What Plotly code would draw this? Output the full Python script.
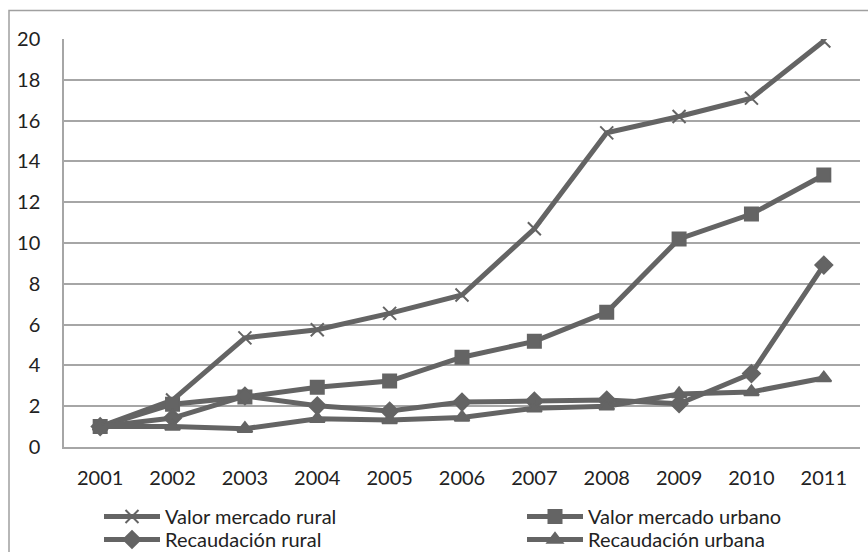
import plotly.graph_objects as go

years = ["2001", "2002", "2003", "2004", "2005", "2006", "2007", "2008", "2009", "2010", "2011"]
valor_rural = [1.0, 2.3, 5.35, 5.75, 6.55, 7.45, 10.7, 15.4, 16.2, 17.1, 19.9]
valor_urbano = [1.0, 2.1, 2.45, 2.93, 3.23, 4.4, 5.18, 6.6, 10.2, 11.42, 13.33]
recaud_rural = [1.0, 1.42, 2.5, 2.02, 1.76, 2.2, 2.25, 2.3, 2.12, 3.6, 8.92]
recaud_urbana = [1.0, 1.0, 0.9, 1.38, 1.32, 1.45, 1.9, 2.0, 2.6, 2.7, 3.38]

names = ["Valor mercado rural", "Valor mercado urbano", "Recaudación rural", "Recaudación urbana"]
series = [valor_rural, valor_urbano, recaud_rural, recaud_urbana]
symbols = ["x-thin", "square", "diamond", "triangle-up"]
sizes = [13, 13, 13, 13]
legend_ids = ["legend", "legend2", "legend3", "legend4"]

W, H = 868, 552
L, R, T, B = 64, 8, 39, 105
pw, ph = W - L - R, H - T - B


def px(x):
    return (x - L) / pw


def py(y):
    return (H - B - y) / ph


color = "#646464"
fig = go.Figure()
for n, s, sym, sz, lg in zip(names, series, symbols, sizes, legend_ids):
    fig.add_trace(go.Scatter(
        x=years, y=s, name=n, mode="lines+markers", legend=lg,
        line=dict(color=color, width=5),
        marker=dict(symbol=sym, size=sz, color=color,
                    line=dict(color=color, width=2)),
    ))

grid = "#a6a6a6"
font_family = "Lato, Open Sans, sans-serif"
leg_common = dict(orientation="v", yanchor="top", xanchor="left", itemwidth=56,
                  font=dict(size=20, family=font_family, color="#222222"),
                  itemclick=False, tracegroupgap=0, bgcolor="rgba(0,0,0,0)")
col_x = [99, 522, 99, 522]
row_top = [497, 497, 520, 520]
legend_layouts = {
    lid: dict(x=px(cx), y=py(ry), **leg_common)
    for lid, cx, ry in zip(legend_ids, col_x, row_top)
}

fig.update_layout(
    width=W, height=H,
    margin=dict(l=L, r=R, t=T, b=B, autoexpand=False),
    paper_bgcolor="white", plot_bgcolor="white",
    font=dict(family=font_family, size=20, color="#222222"),
    showlegend=True,
    xaxis=dict(type="category", range=[-0.5, 10.5], showgrid=False,
               showline=True, linecolor=grid, linewidth=1.5,
               ticks="", ticklabelstandoff=12, tickfont=dict(size=20)),
    yaxis=dict(range=[0, 20], dtick=2, showgrid=True, gridcolor=grid, gridwidth=1.5,
               showline=True, linecolor=grid, linewidth=1.5, zeroline=False,
               ticks="", ticklabelstandoff=18, tickfont=dict(size=20)),
    shapes=[dict(type="rect", xref="paper", yref="paper",
                 x0=px(9), x1=px(875), y0=py(570), y1=py(10.5),
                 line=dict(color="#a0a0a0", width=1.5), fillcolor="rgba(0,0,0,0)")],
    **legend_layouts,
)

fig.write_html("out.html", config={"displayModeBar": False},
               post_script="document.body.style.margin='0';")
